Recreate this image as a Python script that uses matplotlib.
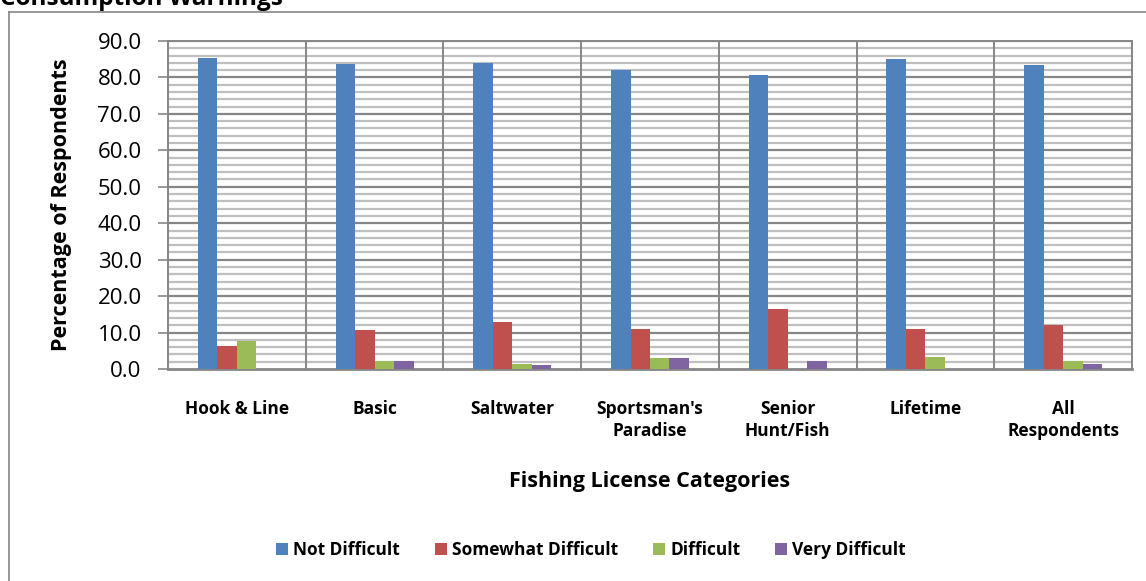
import matplotlib
matplotlib.use("Agg")
import matplotlib.pyplot as plt
import numpy as np
from matplotlib.lines import Line2D
from matplotlib.patches import Patch

plt.rcParams['font.family'] = ['Open Sans', 'DejaVu Sans']

categories = ["Hook & Line", "Basic", "Saltwater", "Sportsman's\nParadise",
              "Senior\nHunt/Fish", "Lifetime", "All\nRespondents"]
series_names = ["Not Difficult", "Somewhat Difficult", "Difficult", "Very Difficult"]
not_difficult = [85.4, 83.8, 84.0, 82.0, 80.7, 85.1, 83.5]
somewhat_difficult = [6.2, 10.8, 12.9, 11.1, 16.6, 11.1, 12.2]
difficult = [7.8, 2.3, 1.3, 3.1, 0.0, 3.2, 2.2]
very_difficult = [0.0, 2.3, 1.1, 3.1, 2.3, 0.0, 1.5]
colors = ["#4F81BD", "#C0504D", "#9BBB59", "#8064A2"]
yticks = [0, 10, 20, 30, 40, 50, 60, 70, 80, 90]

W, H = 1146, 581
fig = plt.figure(figsize=(W / 100, H / 100), dpi=100)
ax = fig.add_axes([168 / W, 1 - 369 / H, (1132 - 168) / W, (369 - 41) / H])

x = np.arange(len(categories))
bw = 0.1415
data = [not_difficult, somewhat_difficult, difficult, very_difficult]
for i, (vals, c) in enumerate(zip(data, colors)):
    ax.bar(x + (i - 1.5) * bw, vals, width=bw, color=c, zorder=3, linewidth=0)

ax.set_xlim(-0.5, len(categories) - 0.5)
ax.set_ylim(0, 90)

# gridlines
for v in np.arange(0, 91, 2):
    if v % 10 != 0:
        ax.axhline(v, color="#BFBFBF", lw=1.6, zorder=1)
for v in yticks[1:]:
    ax.axhline(v, color="#868686", lw=1.6, zorder=2)
for b in np.arange(0.5, len(categories) - 0.5, 1):
    ax.axvline(b, color="#868686", lw=1.4, zorder=2)

for s in ax.spines.values():
    s.set_color("#868686")
    s.set_linewidth(1.4)
ax.spines['bottom'].set_linewidth(2.0)

ax.set_yticks(yticks)
ax.set_yticklabels([f"{v:.1f}" for v in yticks], fontsize=16)
ax.tick_params(axis='y', length=7, width=1.2, color="#868686", pad=12)
ax.set_xticks(x)
ax.set_xticklabels(categories, fontsize=12.5, fontweight='bold', linespacing=1.3)
ax.tick_params(axis='x', length=0, pad=22)

fig.text(62 / W, 1 - 205 / H, "Percentage of Respondents", rotation=90,
         ha='center', va='center', fontsize=15.5, fontweight='bold')
fig.text(650 / W, 1 - 482 / H, "Fishing License Categories",
         ha='center', va='center', fontsize=15.5, fontweight='bold')
fig.text(0, 1 - 5 / H, "Consumption Warnings", ha='left', va='baseline',
         fontsize=17.5, fontweight='bold')

# outer chart border
fig.add_artist(Line2D([9 / W, 9 / W], [0, 1 - 12 / H], transform=fig.transFigure,
                      color="#868686", lw=1.2))
fig.add_artist(Line2D([9 / W, 1], [1 - 12 / H, 1 - 12 / H], transform=fig.transFigure,
                      color="#868686", lw=1.2))

handles = [Patch(facecolor=c, edgecolor='none') for c in colors]
fig.legend(handles, series_names, loc='center', bbox_to_anchor=(591 / W, 1 - 550 / H),
           ncol=4, frameon=False, prop={'weight': 'bold', 'size': 12.5},
           handlelength=0.7, handleheight=0.7, handletextpad=0.3, columnspacing=2.0)

fig.savefig("out.png", dpi=100)
